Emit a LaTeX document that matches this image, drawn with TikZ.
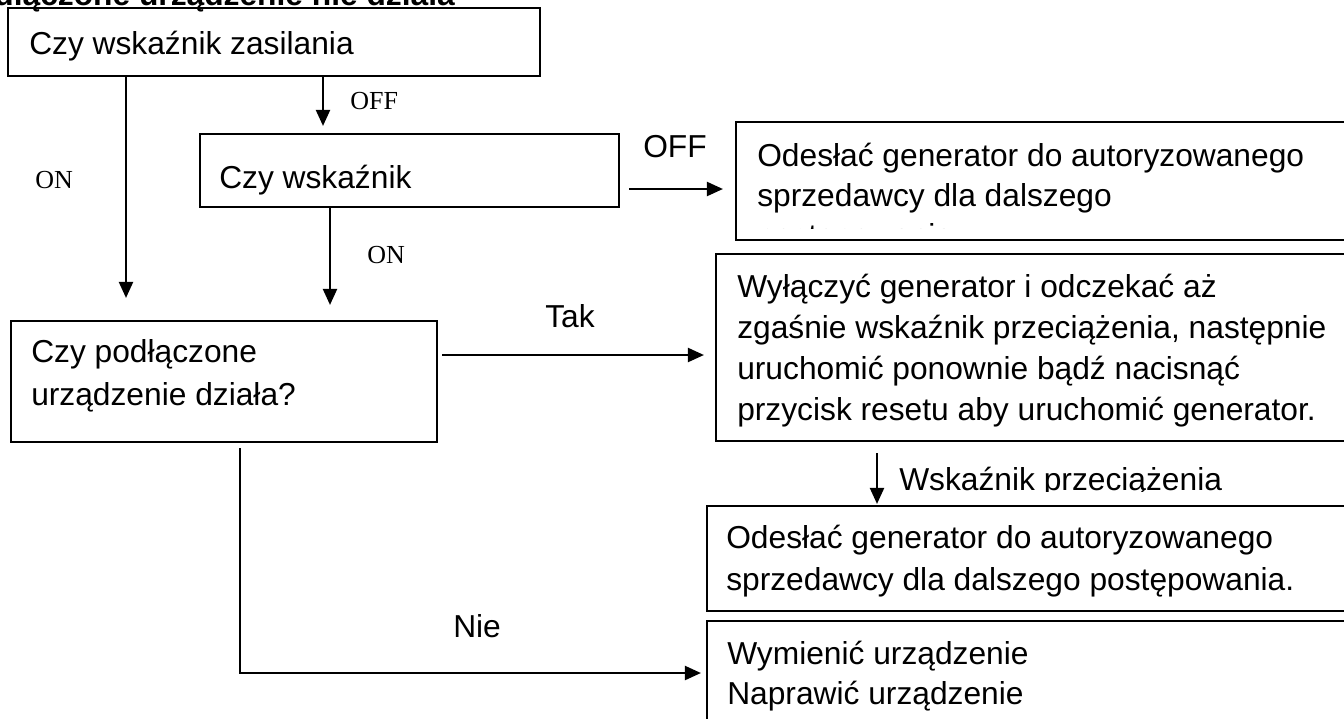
\documentclass[tikz,border=0pt]{standalone}
\usepackage{fontspec}
\setmainfont{Liberation Sans}
\newfontfamily\serifon{Liberation Serif}
\usetikzlibrary{arrows.meta,fit}

\tikzset{
  box/.style={draw,line width=1.6pt,inner sep=0pt},
  txt/.style={anchor=base west,inner sep=0pt,align=left,font=\fontsize{23.8}{30.75}\selectfont},
  serlab/.style={anchor=base west,inner sep=0pt,font=\serifon\fontsize{19.5}{22}\selectfont},
  arr/.style={line width=1.6pt,-{Triangle[length=12pt,width=10.5pt]}}
}

\begin{document}
\begin{tikzpicture}[x=0.75pt,y=-0.75pt]
\useasboundingbox (0,0) rectangle (1344,718);
\clip (0,0) rectangle (1344,718);

\node[txt,anchor=base east,font=\bfseries\fontsize{23.8}{30.75}\selectfont] (title) at (455,5) {Podłączone urządzenie nie działa};

\coordinate (z1) at (8,8);      \coordinate (z2) at (540,76);
\coordinate (w1) at (200,134);  \coordinate (w2) at (619,207);
\coordinate (d1) at (11,321);   \coordinate (d2) at (437,442);
\coordinate (o1) at (736,122);  \coordinate (o2) at (1360,240);
\coordinate (y1) at (716,254);  \coordinate (y2) at (1360,441);
\coordinate (s1) at (707,506);  \coordinate (s2) at (1360,611);
\coordinate (m1) at (707,621);  \coordinate (m2) at (1360,740);

\node[box,fit=(z1)(z2)] (zasil) {};
\node[box,fit=(w1)(w2)] (wsk) {};
\node[box,fit=(d1)(d2)] (dzial) {};
\node[box,fit=(o1)(o2)] (odes) {};
\node[box,fit=(y1)(y2)] (wyl) {};
\node[box,fit=(s1)(s2)] (odesb) {};
\node[box,fit=(m1)(m2)] (wym) {};

% multi-line texts sit on the baseline of their last line
\node[txt] (t-zasil) at (29,54) {Czy wskaźnik zasilania};
\node[txt] (t-wsk) at (219,188) {Czy wskaźnik};
\node[txt,font=\fontsize{23.8}{32}\selectfont] (t-dzial) at (31,405) {Czy podłączone\\urządzenie działa?};
\begin{scope}
\clip (736,122) rectangle (1360,228);
\node[txt,font=\fontsize{23.8}{30}\selectfont] (t-odes) at (757,246) {Odesłać generator do autoryzowanego\\sprzedawcy dla dalszego\\postępowania.};
\end{scope}
\node[txt] (t-wyl) at (737,420) {Wyłączyć generator i odczekać aż\\zgaśnie wskaźnik przeciążenia, następnie\\uruchomić ponownie bądź nacisnąć\\przycisk resetu aby uruchomić generator.};
\node[txt,font=\fontsize{23.8}{31.5}\selectfont] (t-odesb) at (726,590) {Odesłać generator do autoryzowanego\\sprzedawcy dla dalszego postępowania.};
\node[txt,font=\fontsize{23.8}{29.5}\selectfont] (t-wym) at (727,704) {Wymienić urządzenie\\Naprawić urządzenie};

\coordinate (xa) at (126,0);
\coordinate (xb) at (323,0);
\coordinate (xc) at (330,0);
\coordinate (xd) at (877,0);
\coordinate (xe) at (240,0);
\coordinate (ha) at (0,189);
\coordinate (hb) at (0,355);
\coordinate (hc) at (0,673);

\draw[arr,shorten >=16.5pt] (zasil.south -| xa) -- (dzial.north -| xa);
\draw[arr,shorten >=5.25pt] (zasil.south -| xb) -- (wsk.north -| xb);
\draw[arr,shorten <=6.75pt,shorten >=9pt] (wsk.east |- ha) -- (odes.west |- ha);
\draw[arr,shorten >=11.25pt] (wsk.south -| xc) -- (dzial.north -| xc);
\draw[arr,shorten <=3pt,shorten >=8.25pt] (dzial.east |- hb) -- (wyl.west |- hb);
\draw[arr,shorten <=8.25pt,shorten >=0.75pt] (wyl.south -| xd) -- (odesb.north -| xd);
\draw[arr,shorten <=3.75pt,shorten >=3.75pt] (dzial.south -| xe) |- (wym.west |- hc);

\node[serlab] (l-on) at (35,188) {ON};
\node[serlab] (l-off) at (350,109) {OFF};
\node[serlab] (l-on2) at (367,263) {ON};
\node[txt] (l-off2) at (643,157) {OFF};
\node[txt] (l-tak) at (545,327) {Tak};
\node[txt] (l-nie) at (453,637) {Nie};
\begin{scope}
\clip (880,440) rectangle (1344,491);
\node[txt] (l-wsk) at (899,490) {Wskaźnik przeciążenia};
\end{scope}
\end{tikzpicture}
\end{document}
